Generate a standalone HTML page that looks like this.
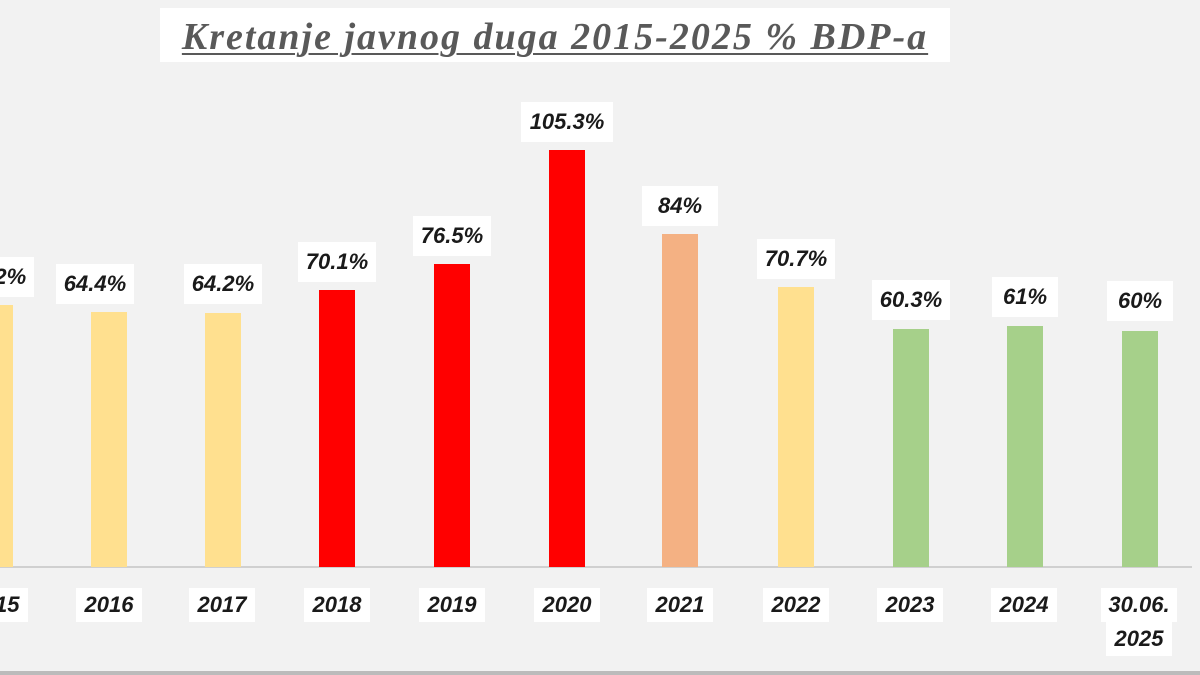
<!DOCTYPE html>
<html><head><meta charset="utf-8"><style>
body{margin:0;width:1200px;height:675px;background:#f2f2f2;position:relative;overflow:hidden;font-family:"Liberation Sans",sans-serif}
.t{position:absolute;left:160px;top:8px;width:790px;height:54px;background:#fff;text-align:center;font:italic bold 38px "Liberation Serif",serif;letter-spacing:2px;color:#595959;line-height:58px;text-decoration:underline;text-decoration-thickness:2px;text-underline-offset:4px;white-space:nowrap}
.b{position:absolute;width:36px;bottom:108px}
.l{position:absolute;background:#fff;font:italic bold 22px "Liberation Sans",sans-serif;color:#1a1a1a;text-align:center;width:78px;height:40px;line-height:40px}
.y{position:absolute;background:#fff;font:italic bold 22px "Liberation Sans",sans-serif;color:#1a1a1a;text-align:center;width:66px;height:34px;line-height:34px;top:588px}
.ax{position:absolute;left:0;top:566px;width:1192px;height:2px;background:#d0d0d0}
.bt{position:absolute;left:0;top:671px;width:1200px;height:4px;background:#bbb}
</style></head><body>
<div class="t">Kretanje javnog duga 2015-2025 % BDP-a</div>
<div class="ax"></div>
<div class="b" style="left:-23px;top:305px;background:#ffe08f"></div>
<div class="b" style="left:91px;top:312px;background:#ffe08f"></div>
<div class="b" style="left:205px;top:313px;background:#ffe08f"></div>
<div class="b" style="left:319px;top:290px;background:#ff0000"></div>
<div class="b" style="left:434px;top:264px;background:#ff0000"></div>
<div class="b" style="left:549px;top:150px;background:#ff0000"></div>
<div class="b" style="left:662px;top:234px;background:#f4b183"></div>
<div class="b" style="left:778px;top:287px;background:#ffe08f"></div>
<div class="b" style="left:893px;top:329px;background:#a6d08a"></div>
<div class="b" style="left:1007px;top:326px;background:#a6d08a"></div>
<div class="b" style="left:1122px;top:331px;background:#a6d08a"></div>
<div class="l" style="left:-44px;top:257px">64.2%</div>
<div class="l" style="left:56px;top:264px">64.4%</div>
<div class="l" style="left:184px;top:264px">64.2%</div>
<div class="l" style="left:298px;top:242px">70.1%</div>
<div class="l" style="left:413px;top:216px">76.5%</div>
<div class="l" style="left:521px;top:102px;width:92px">105.3%</div>
<div class="l" style="left:642px;top:186px;width:76px">84%</div>
<div class="l" style="left:757px;top:239px">70.7%</div>
<div class="l" style="left:872px;top:280px">60.3%</div>
<div class="l" style="left:992px;top:277px;width:66px">61%</div>
<div class="l" style="left:1107px;top:281px;width:66px">60%</div>
<div class="y" style="left:-38px">2015</div>
<div class="y" style="left:76px">2016</div>
<div class="y" style="left:189px">2017</div>
<div class="y" style="left:304px">2018</div>
<div class="y" style="left:419px">2019</div>
<div class="y" style="left:534px">2020</div>
<div class="y" style="left:647px">2021</div>
<div class="y" style="left:763px">2022</div>
<div class="y" style="left:877px">2023</div>
<div class="y" style="left:991px">2024</div>
<div class="y" style="left:1101px;width:76px">30.06.</div>
<div class="y" style="left:1106px;top:622px">2025</div>
<div class="bt"></div>
</body></html>
